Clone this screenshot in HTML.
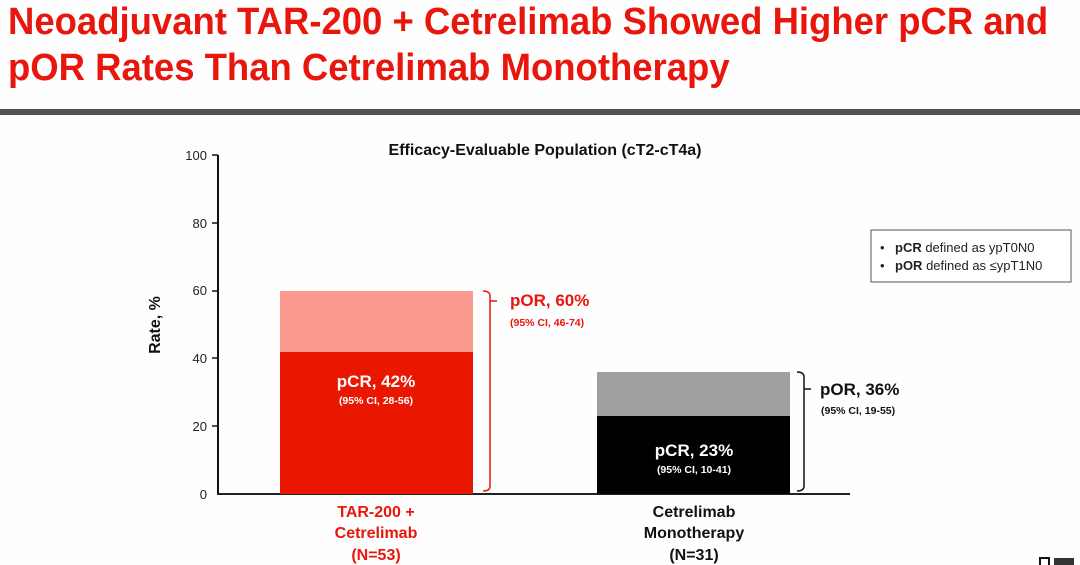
<!DOCTYPE html>
<html><head><meta charset="utf-8"><style>
body{margin:0;width:1080px;height:565px;background:#fdfefd;overflow:hidden;font-family:"Liberation Sans",sans-serif;position:relative}
.t{position:absolute;left:8px;top:-1px;color:#e8160c;font-family:"Liberation Sans",sans-serif;font-weight:bold;font-size:38px;line-height:46px;white-space:nowrap;transform:scaleX(0.96);transform-origin:0 0}
.a{position:absolute}
</style></head><body>
<div class="t">Neoadjuvant TAR-200 + Cetrelimab Showed Higher pCR and<br>pOR Rates Than Cetrelimab Monotherapy</div>
<div class="a" style="left:0;top:109px;width:1080px;height:6px;background:#555350"></div>
<svg class="a" style="left:0;top:0" width="1080" height="565">
<g font-family="Liberation Sans" >
<text x="545" y="155" font-size="16" font-weight="bold" text-anchor="middle" fill="#111">Efficacy-Evaluable Population (cT2-cT4a)</text>
<line x1="218" y1="155" x2="218" y2="494" stroke="#111" stroke-width="2"/>
<line x1="217" y1="494" x2="850" y2="494" stroke="#222" stroke-width="2"/>
<g font-size="13" fill="#222" text-anchor="end">
<text x="207" y="160">100</text><text x="207" y="228">80</text><text x="207" y="295">60</text>
<text x="207" y="363">40</text><text x="207" y="431">20</text><text x="207" y="499">0</text>
</g>
<g stroke="#111" stroke-width="1.5">
<line x1="212" y1="155" x2="218" y2="155"/><line x1="212" y1="223" x2="218" y2="223"/><line x1="212" y1="291" x2="218" y2="291"/><line x1="212" y1="358" x2="218" y2="358"/><line x1="212" y1="426" x2="218" y2="426"/></g>
<text transform="translate(160,325) rotate(-90)" font-size="16" font-weight="bold" text-anchor="middle" fill="#111">Rate, %</text>
<rect x="280" y="291" width="193" height="61" fill="#fb9a8f"/>
<rect x="280" y="352" width="193" height="142" fill="#e91700"/>
<rect x="597" y="372" width="193" height="44" fill="#9f9f9d"/>
<rect x="597" y="416" width="193" height="78" fill="#000"/>
<text x="376" y="387" font-size="17" font-weight="bold" fill="#fff" text-anchor="middle">pCR, 42%</text>
<text x="376" y="404" font-size="10.5" font-weight="bold" fill="#fff" text-anchor="middle">(95% CI, 28-56)</text>
<text x="694" y="456" font-size="17" font-weight="bold" fill="#fff" text-anchor="middle">pCR, 23%</text>
<text x="694" y="473" font-size="10.5" font-weight="bold" fill="#fff" text-anchor="middle">(95% CI, 10-41)</text>
<path d="M483,291 Q490,291 490,296 L490,486 Q490,491 483,491 M490,301 L497,301" fill="none" stroke="#e8160c" stroke-width="1.5"/>
<text x="510" y="306" font-size="17" font-weight="bold" fill="#e8160c">pOR, 60%</text>
<text x="510" y="326" font-size="10.5" font-weight="bold" fill="#e8160c">(95% CI, 46-74)</text>
<path d="M797,372 Q804,372 804,377 L804,486 Q804,491 797,491 M804,389 L811,389" fill="none" stroke="#111" stroke-width="1.5"/>
<text x="820" y="395" font-size="17" font-weight="bold" fill="#111">pOR, 36%</text>
<text x="821" y="414" font-size="10.5" font-weight="bold" fill="#111">(95% CI, 19-55)</text>
<g font-size="16" font-weight="bold" text-anchor="middle" fill="#e8160c">
<text x="376" y="517">TAR-200 +</text><text x="376" y="538">Cetrelimab</text><text x="376" y="560">(N=53)</text></g>
<g font-size="16" font-weight="bold" text-anchor="middle" fill="#111">
<text x="694" y="517">Cetrelimab</text><text x="694" y="538">Monotherapy</text><text x="694" y="560">(N=31)</text></g>
<rect x="871" y="230" width="200" height="52" fill="#fff" stroke="#555" stroke-width="1"/>
<g font-size="13" fill="#222">
<text x="880" y="252">•</text><text x="895" y="252"><tspan font-weight="bold">pCR</tspan> defined as ypT0N0</text>
<text x="880" y="270">•</text><text x="895" y="270"><tspan font-weight="bold">pOR</tspan> defined as ≤ypT1N0</text></g>
<rect x="1040" y="558" width="9" height="9" fill="none" stroke="#111" stroke-width="2"/>
<rect x="1054" y="558" width="20" height="9" fill="#333"/>
</g></svg>
</body></html>
